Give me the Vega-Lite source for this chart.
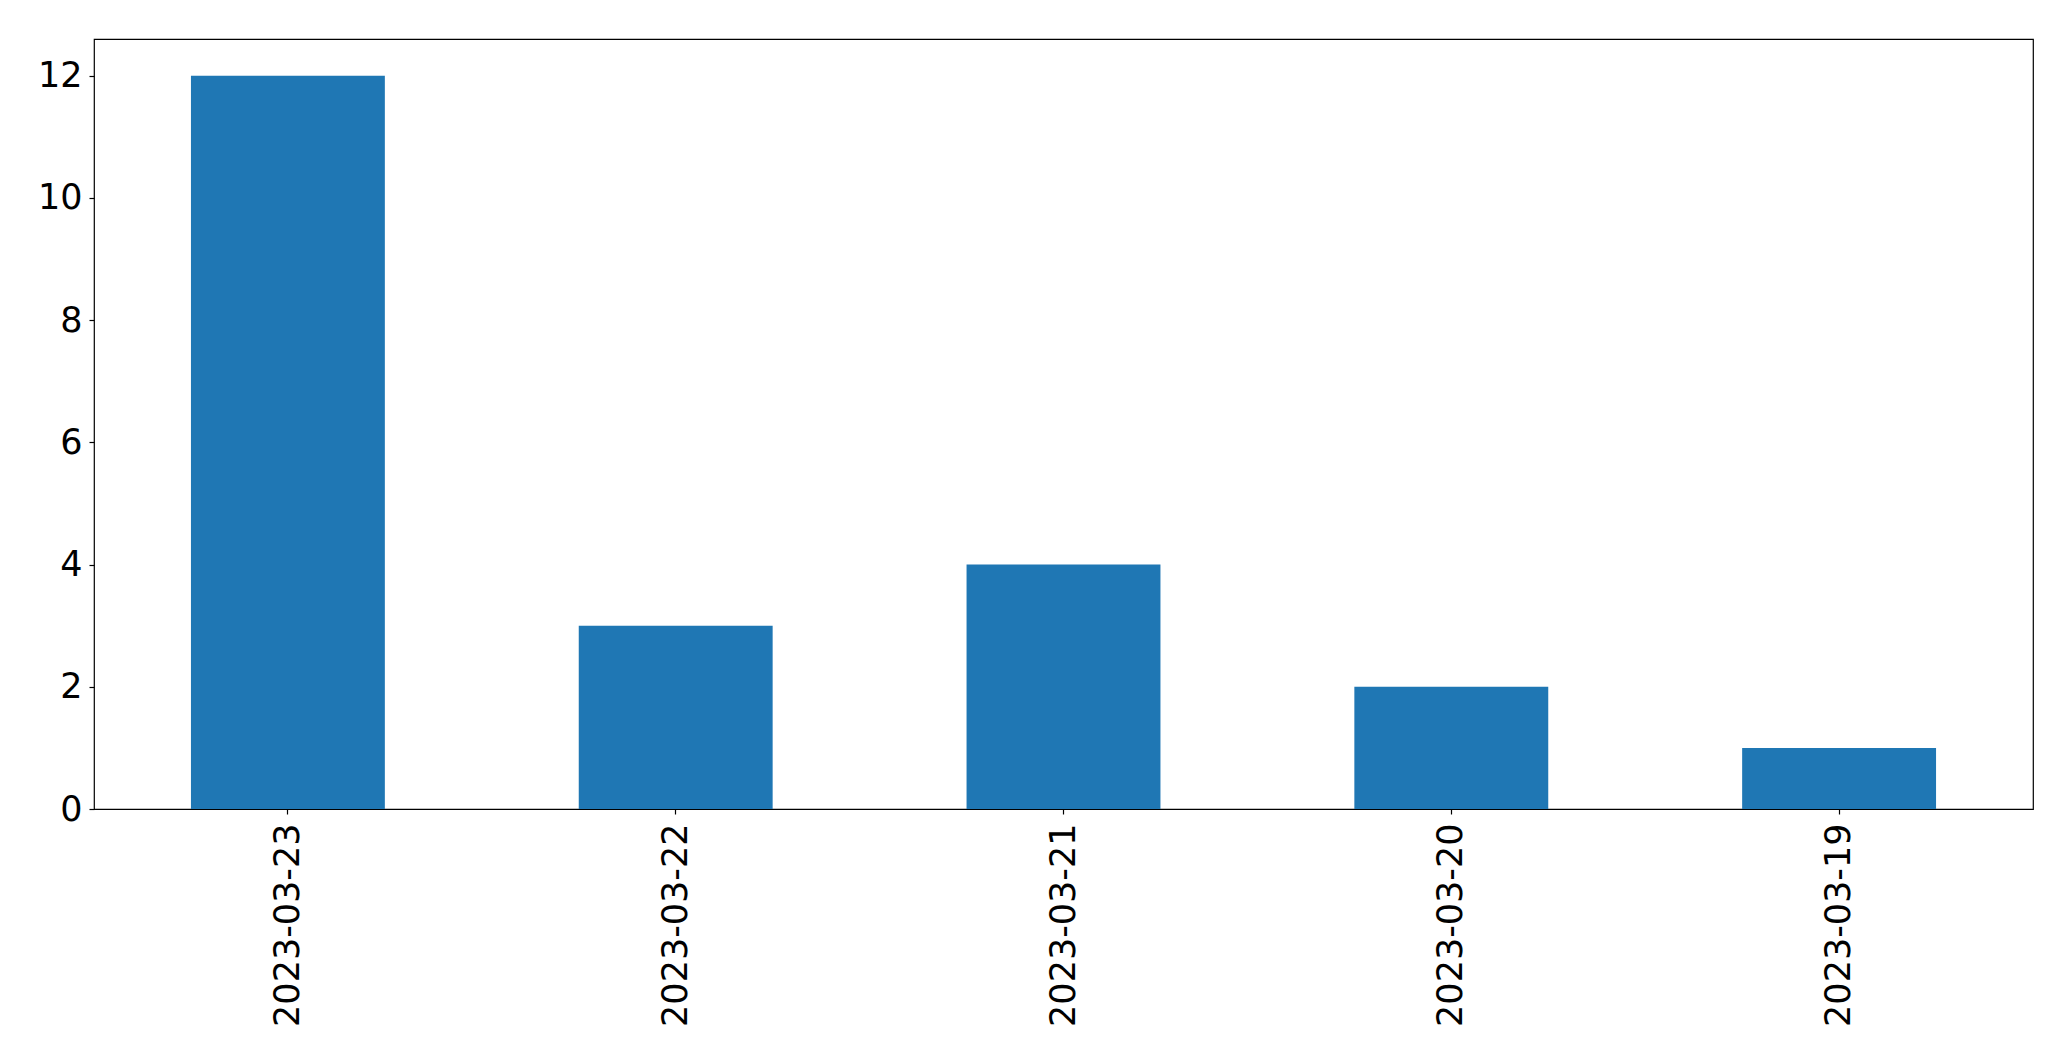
{
  "$schema": "https://vega.github.io/schema/vega-lite/v6.json",
  "autosize": "none",
  "width": 1939,
  "height": 770,
  "padding": {"left": 94, "top": 39, "right": 38, "bottom": 252},
  "background": "white",
  "config": {
    "view": {"stroke": "black", "strokeWidth": 1.2},
    "axis": {
      "labelFont": "DejaVu Sans",
      "labelFontSize": 35,
      "labelColor": "black",
      "labelLimit": 0,
      "domainColor": "black",
      "tickColor": "black",
      "tickSize": 5,
      "tickWidth": 1.2,
      "grid": false,
      "title": null
    }
  },
  "data": {
    "values": [
      {"date": "2023-03-23", "count": 12},
      {"date": "2023-03-22", "count": 3},
      {"date": "2023-03-21", "count": 4},
      {"date": "2023-03-20", "count": 2},
      {"date": "2023-03-19", "count": 1}
    ]
  },
  "mark": {"type": "bar", "color": "#1f77b4"},
  "encoding": {
    "x": {
      "field": "date",
      "type": "nominal",
      "sort": null,
      "scale": {"paddingInner": 0.5, "paddingOuter": 0.25},
      "axis": {"labelAngle": -90, "labelPadding": 9, "domain": false}
    },
    "y": {
      "field": "count",
      "type": "quantitative",
      "scale": {"domain": [0, 12.6], "nice": false, "zero": true},
      "axis": {"values": [0, 2, 4, 6, 8, 10, 12], "labelPadding": 7, "domain": false}
    }
  }
}
